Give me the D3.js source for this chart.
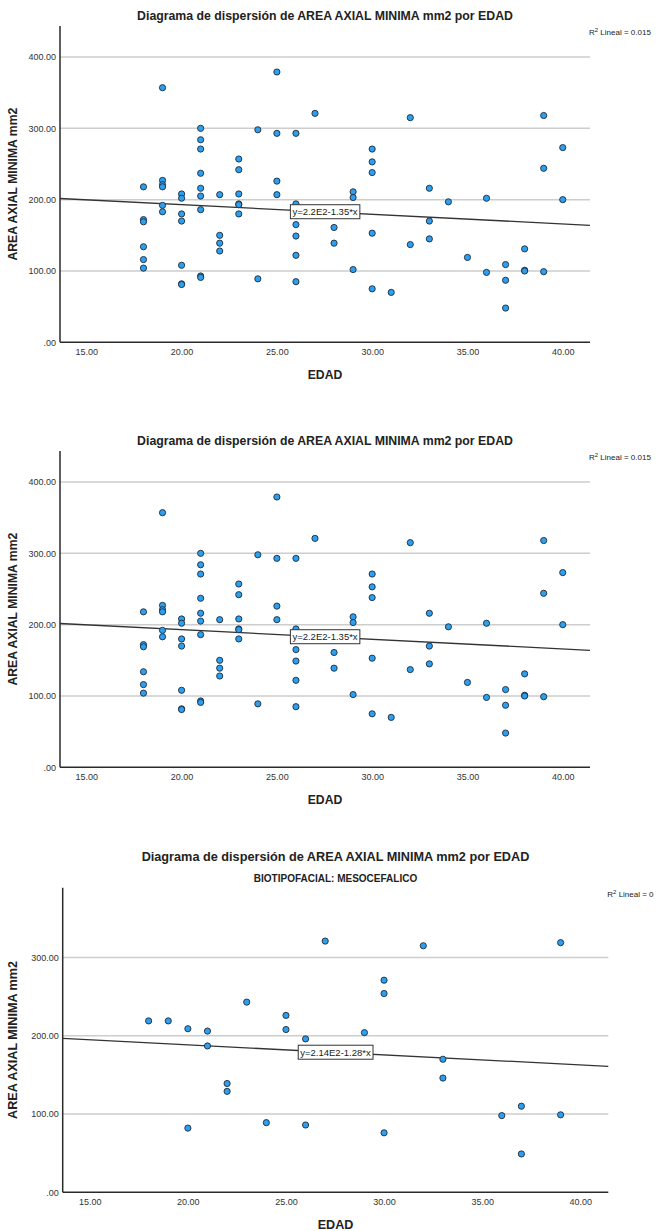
<!DOCTYPE html>
<html lang="es">
<head>
<meta charset="utf-8">
<script src="https://cdn.jsdelivr.net/npm/d3@7/dist/d3.min.js"></script>
<style>
  body { margin: 0; background: #fff; }
  svg text { font-family: "Liberation Sans", Arial, sans-serif; fill: #222; }
</style>
</head>
<body>
<script>
// ---- datos ----
const titulo = "Diagrama de dispersión de AREA AXIAL MINIMA mm2 por EDAD";
const subtituloMeso = "BIOTIPOFACIAL: MESOCEFALICO";
const tituloX = "EDAD";
const tituloY = "AREA AXIAL MINIMA mm2";

// todos los casos (graficos 1 y 2)
const edadTodos = [
  18,18,18,18,18,18,
  19,19,19,19,19,19,
  20,20,20,20,20,20,20,
  21,21,21,21,21,21,21,21,21,
  22,22,22,22,
  23,23,23,23,23,23,
  24,24,
  25,25,25,25,
  26,26,26,26,26,26,
  27,
  28,28,
  29,29,29,
  30,30,30,30,30,
  31,
  32,32,
  33,33,33,
  34,
  35,
  36,36,
  37,37,37,
  38,38,38,
  39,39,39,
  40,40
];
const areaTodos = [
  218,172,169,134,116,104,
  357,227,221,218,192,183,
  208,202,180,170,108,82,81,
  300,284,271,237,216,205,186,93,91,
  207,150,139,128,
  257,242,208,194,193,180,
  298,89,
  379,293,226,207,
  293,194,165,149,122,85,
  321,
  161,139,
  211,203,102,
  271,253,238,153,75,
  70,
  315,137,
  216,170,145,
  197,
  119,
  202,98,
  109,87,48,
  131,101,100,
  318,244,99,
  273,200
];

// mesocefalico (grafico 3)
const edadMeso = [18,19,20,20,21,21,22,22,23,24,25,25,26,26,27,29,30,30,30,32,33,33,36,37,37,39,39];
const areaMeso = [219,219,209,82,206,187,139,129,243,89,226,208,196,86,321,204,271,254,76,315,170,146,98,110,49,319,99];

// recta de ajuste y R2 tal como aparecen
const ajusteTodos = { a: 220, b: -1.35, etiqueta: "y=2.2E2-1.35*x", r2: "0.015" };
const ajusteMeso = { a: 214, b: -1.28, etiqueta: "y=2.14E2-1.28*x", r2: "0" };

const ticksX = [15, 20, 25, 30, 35, 40];
const ticksYTodos = [0, 100, 200, 300, 400];
const ticksYMeso = [0, 100, 200, 300];

// ---- dibujo ----
const svg = d3.select("body").append("svg")
  .attr("width", 659)
  .attr("height", 1231);

const fmt = v => v === 0 ? ".00" : d3.format(".2f")(v);

const paneles = [
  { edad: edadTodos, area: areaTodos, ajuste: ajusteTodos, ticksY: ticksYTodos, sub: null,
    left: 60, right: 590, top: 26, bottom: 342.3, yMax: 443.5,
    titleY: 20, xTitleY: 379, titleSize: 12.3, axisSize: 12.2 },
  { edad: edadTodos, area: areaTodos, ajuste: ajusteTodos, ticksY: ticksYTodos, sub: null,
    left: 60, right: 590, top: 451, bottom: 767.3, yMax: 443.5,
    titleY: 445, xTitleY: 804, titleSize: 12.3, axisSize: 12.2 },
  { edad: edadMeso, area: areaMeso, ajuste: ajusteMeso, ticksY: ticksYMeso, sub: subtituloMeso,
    left: 62.7, right: 608.3, top: 887.7, bottom: 1192.3, yMax: 389.2,
    titleY: 861, xTitleY: 1229, titleSize: 12.7, axisSize: 12.6 }
];

paneles.forEach(p => {
  const g = svg.append("g");
  const x = d3.scaleLinear().domain([13.62, 41.43]).range([p.left, p.right]);
  const y = d3.scaleLinear().domain([0, p.yMax]).range([p.bottom, p.top]);
  const cx = (p.left + p.right) / 2;

  // lineas de cuadricula
  g.append("g").selectAll("line")
    .data(p.ticksY.filter(d => d > 0))
    .join("line")
    .attr("x1", p.left).attr("x2", p.right)
    .attr("y1", d => y(d)).attr("y2", d => y(d))
    .attr("stroke", "#cdcdcd").attr("stroke-width", 1.5);

  // ejes
  const ay = g.append("g").attr("transform", `translate(${p.left},0)`)
    .call(d3.axisLeft(y).tickValues(p.ticksY).tickFormat(fmt).tickSize(0).tickPadding(4));
  ay.select(".domain").remove();
  ay.selectAll("text").style("font-size", "9px").style("fill", "#333");

  const ax = g.append("g").attr("transform", `translate(0,${p.bottom})`)
    .call(d3.axisBottom(x).tickValues(ticksX).tickFormat(d3.format(".2f")).tickSize(0).tickPadding(6));
  ax.select(".domain").remove();
  ax.selectAll("text").style("font-size", "9px").style("fill", "#333");

  g.append("line").attr("x1", p.left).attr("x2", p.left).attr("y1", p.top).attr("y2", p.bottom)
    .attr("stroke", "#2a2a2a").attr("stroke-width", 1.5);
  g.append("line").attr("x1", p.left).attr("x2", p.right).attr("y1", p.bottom).attr("y2", p.bottom)
    .attr("stroke", "#2a2a2a").attr("stroke-width", 1.5);

  // recta de ajuste
  const [x0, x1] = x.domain();
  const f = v => p.ajuste.a + p.ajuste.b * v;
  g.append("line")
    .attr("x1", x(x0)).attr("y1", y(f(x0)))
    .attr("x2", x(x1)).attr("y2", y(f(x1)))
    .attr("stroke", "#333").attr("stroke-width", 1.3);

  // puntos
  g.append("g").selectAll("circle")
    .data(p.edad.map((e, i) => [e, p.area[i]]))
    .join("circle")
    .attr("cx", d => x(d[0]))
    .attr("cy", d => y(d[1]))
    .attr("r", 3.1)
    .attr("fill", "#2d9ff0")
    .attr("stroke", "#1c2b3a")
    .attr("stroke-width", 0.9);

  // etiqueta de la ecuacion
  const xm = (x0 + x1) / 2;
  const lab = g.append("g").attr("transform", `translate(${x(xm)},${y(f(xm))})`);
  const t = lab.append("text").attr("text-anchor", "middle").attr("dy", "0.35em")
    .style("font-size", "9.5px").style("fill", "#222").text(p.ajuste.etiqueta);
  const bb = t.node().getBBox();
  lab.insert("rect", "text")
    .attr("x", bb.x - 2).attr("y", bb.y - 1.5)
    .attr("width", bb.width + 4).attr("height", bb.height + 3)
    .attr("fill", "#fff").attr("stroke", "#333").attr("stroke-width", 1);

  // R2
  const r2 = g.append("text").attr("x", p.right - 1).attr("y", p.top + 9)
    .style("font-size", "8px").style("fill", "#222");
  r2.append("tspan").text("R");
  r2.append("tspan").attr("dy", -3).style("font-size", "6px").text("2");
  r2.append("tspan").attr("dy", 3).text(" Lineal = " + p.ajuste.r2);

  // titulos
  g.append("text").attr("x", cx).attr("y", p.titleY).attr("text-anchor", "middle")
    .style("font-size", p.titleSize + "px").style("font-weight", "bold").text(titulo);
  if (p.sub) {
    g.append("text").attr("x", cx).attr("y", p.titleY + 21).attr("text-anchor", "middle")
      .style("font-size", "10px").style("font-weight", "bold").text(p.sub);
  }
  g.append("text").attr("x", cx).attr("y", p.xTitleY).attr("text-anchor", "middle")
    .style("font-size", p.axisSize + "px").style("font-weight", "bold").text(tituloX);
  g.append("text")
    .attr("transform", `translate(17,${(p.top + p.bottom) / 2}) rotate(-90)`)
    .attr("text-anchor", "middle")
    .style("font-size", p.axisSize + "px").style("font-weight", "bold").text(tituloY);
});
</script>
</body>
</html>
